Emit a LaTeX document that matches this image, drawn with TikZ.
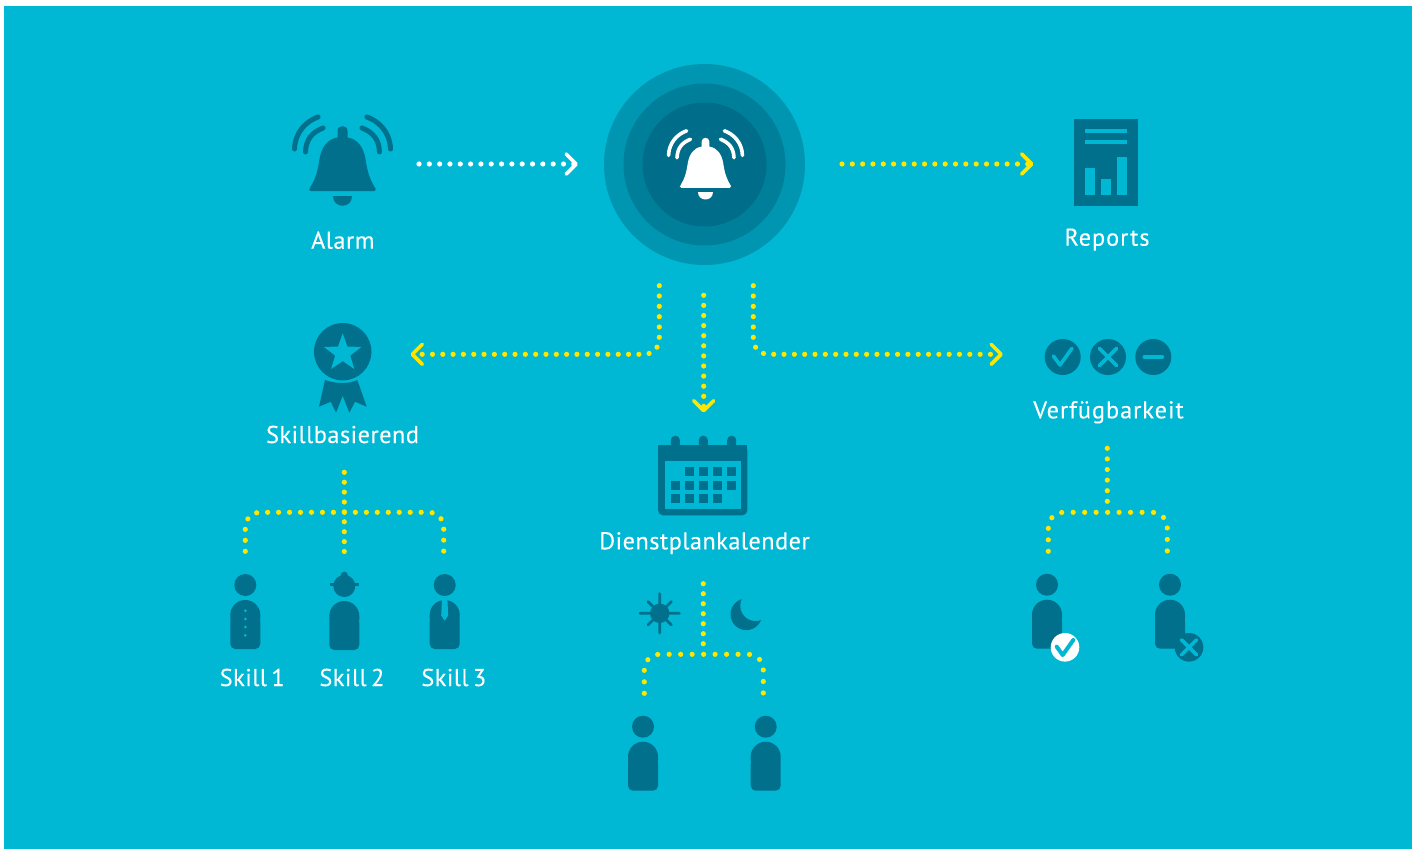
\documentclass[tikz,border=0pt]{standalone}
\usepackage{fontspec}
\setmainfont[LetterSpace=2,FakeBold=0.12]{PT Sans}
\newfontfamily\widelabel[LetterSpace=4,FakeBold=0.12]{PT Sans}
\usetikzlibrary{arrows.meta}
\definecolor{pagebg}{RGB}{0,183,212}
\definecolor{darkicon}{RGB}{0,112,140}
\definecolor{ringa}{RGB}{0,149,177}
\definecolor{ringb}{RGB}{0,127,155}
\definecolor{ringc}{RGB}{0,110,138}
\definecolor{dotyellow}{RGB}{255,230,0}
\tikzset{
  x=1pt,y=-1pt,
  label text/.style={text=white,anchor=base,inner sep=0pt,font=\fontsize{24.3}{26}\selectfont},
  dotline/.style={line width=5.2pt,line cap=round,dash pattern=on 0pt off #1pt},
  dotline/.default=10.32,
  flow/.style={dotline=#1,dotyellow,rounded corners=15pt},
  flow/.default=10.32,
  tree/.style={dotline=#1,dotyellow,rounded corners=15pt},
  barb/.style={-{Straight Barb[length=10pt,width=20pt,line width=3.6pt,round]}},
  iconline/.style={line width=3.6pt,line cap=round,line join=round},
  pics/person/.style={code={
    \fill[darkicon] (0,0) circle[radius=11pt];
    \fill[darkicon,rounded corners=15pt] (-15,15) rectangle (15,48);
    \fill[darkicon,rounded corners=5pt] (-15,32) rectangle (15,64);
  }},
  pics/bell/.style n args={2}{code={
    \fill[#1] (-29,27) [rounded corners=1.5pt] -- (-33.5,27) -- (-33,24.5) [sharp corners]
      .. controls (-27,15) and (-25,8) .. (-23,-5)
      .. controls (-21,-17) and (-15,-25) .. (-5,-26.5) -- (-5,-33)
      .. controls (-5,-39.5) and (5,-39.5) .. (5,-33) -- (5,-26.5)
      .. controls (15,-25) and (21,-17) .. (23,-5)
      .. controls (25,8) and (27,15) .. (33,24.5) [rounded corners=1.5pt] -- (33.5,27) -- cycle;
    \fill[#1] (-9.5,32) -- (9.5,32) .. controls (9.5,45) and (-9.5,45) .. (-9.5,32) -- cycle;
    \draw[#1,line width=#2,line cap=round]
      (-48,-15) .. controls (-47.5,-32) and (-36,-43) .. (-24.5,-47);
    \draw[#1,line width=#2,line cap=round]
      (-37,-12) .. controls (-36.5,-25) and (-30,-32) .. (-19.5,-36);
    \draw[#1,line width=#2,line cap=round]
      (48,-15) .. controls (47.5,-32) and (36,-43) .. (24.5,-47);
    \draw[#1,line width=#2,line cap=round]
      (37,-12) .. controls (36.5,-25) and (30,-32) .. (19.5,-36);
  }}
}
\begin{document}
\begin{tikzpicture}
\useasboundingbox (0,0) rectangle (1416,849);
\fill[white] (0,0) rectangle (1416,849);
\fill[pagebg] (4,6) rectangle (1412,849);

% hub
\node[circle,fill=ringa,minimum size=201pt,inner sep=0pt] (hub) at (704.5,164.5) {};
\node[circle,fill=ringb,minimum size=162pt,inner sep=0pt] (hubmid) at (704.5,164.5) {};
\node[circle,fill=ringc,minimum size=124pt,inner sep=0pt] (hubcore) at (704.5,164.5) {};
\pic[scale=.77] at (705.5,167) {bell={white}{3.6pt}};

% alarm
\pic at (342.5,164) {bell={darkicon}{5pt}};
\node[label text] (alarm) at (342.8,248.7) {Alarm};

% reports
\fill[darkicon] (1074,119) rectangle (1138,206);
\fill[pagebg] (1085,129) rectangle (1127,133.3);
\fill[pagebg] (1085,140) rectangle (1127,144.3);
\fill[pagebg] (1085,167.7) rectangle (1095,195);
\fill[pagebg] (1101,179) rectangle (1111,195);
\fill[pagebg] (1117.3,156.7) rectangle (1127,195);
\node[label text] (reports) at (1107,245.7) {\widelabel Reports};

% status circles
\fill[darkicon] (1062.7,357) circle[radius=18pt];
\draw[pagebg,iconline] (1053.4,356) -- (1060,365) -- (1072,348.3);
\fill[darkicon] (1108,357) circle[radius=18pt];
\draw[pagebg,iconline] (1099.3,348.3) -- (1116.7,365.7) (1116.7,348.3) -- (1099.3,365.7);
\fill[darkicon] (1153.3,357) circle[radius=18pt];
\draw[pagebg,iconline] (1144.3,357) -- (1162.3,357);
\node[label text] (verf) at (1108.5,418.3) {\widelabel Verfügbarkeit};

% award
\fill[darkicon] (342.7,351.7) circle[radius=28.7pt];
\fill[pagebg] (342.7,333.3)
  -- (347.4,346.6) -- (361.5,346.9) -- (350.3,355.6) -- (354.3,369) -- (342.7,361.1)
  -- (331.1,369) -- (335.1,355.6) -- (323.9,346.9) -- (338,346.6) -- cycle;
\fill[darkicon] (325,380) .. controls (336,384) and (349.5,384) .. (357.3,380)
  -- (366.7,406.7) -- (355,401.7) -- (349.3,412.7) -- (342.7,395.7)
  -- (336,412.7) -- (330.7,401.7) -- (319,406.7) -- cycle;
\node[label text] (skillb) at (342.5,443) {Skillbasierend};

% calendar
\foreach \xx in {675.3,703.3,731.7}{
  \fill[darkicon,rounded corners=4.4pt] (\xx-4.5,435.7) rectangle (\xx+4.5,455);
}
\fill[darkicon,rounded corners=5pt] (658,445.3) -- (658,515.3) -- (747.3,515.3) -- (747.3,445.3) [sharp corners] -- cycle;
\fill[darkicon] (658,445.3) rectangle (747.3,470);
\fill[pagebg] (665,461) rectangle (741.3,509);
\foreach \xx/\yy in {685/467,699/467,713/467,727/467,
                     671/481,685/481,699/481,713/481,727/481,
                     671/494,685/494,699/494,713/494}{
  \fill[darkicon] (\xx,\yy) rectangle (\xx+9,\yy+9);
}
\node[label text] (dienst) at (704.5,549.3) {Dienstplankalender};

% sun and moon
\fill[darkicon] (659.7,613.3) circle[radius=9.7pt];
\draw[darkicon,line width=2.8pt,line cap=round]
  (640,613.3) -- (679.4,613.3) (659.7,593.6) -- (659.7,633)
  (648,601.6) -- (671.4,625) (671.4,601.6) -- (648,625);
\fill[darkicon] (746.3,614.3) circle[radius=15.8pt];
\fill[pagebg] (755.6,605.7) circle[radius=15.3pt];

% people
\pic at (245.3,585) {person};
\fill[pagebg] (245.3,610.7) circle[radius=1.5pt] (245.3,619) circle[radius=1.5pt]
  (245.3,627) circle[radius=1.5pt] (245.3,635.3) circle[radius=1.5pt];
\pic at (344.3,586) {person};
\fill[darkicon] (344.3,575.3) circle[radius=3.6pt];
\draw[darkicon,line width=3pt] (330,584.3) -- (358.6,584.3);
\pic at (444.7,585) {person};
\fill[pagebg] (442,600) -- (447.4,600) -- (448.2,615.5) -- (444.7,620.7) -- (441.2,615.5) -- cycle;
\node[label text] (s1) at (252.2,686) {Skill\kern-2.5pt{} 1};
\node[label text] (s2) at (351.9,686) {Skill\kern-2.5pt{} 2};
\node[label text] (s3) at (453.8,686) {Skill\kern-2.5pt{} 3};
\pic at (643,726.7) {person};
\pic at (765.7,726.7) {person};
\pic at (1047,584.7) {person};
\pic at (1170,584.7) {person};
\fill[white] (1065,647.3) circle[radius=14.3pt];
\draw[pagebg,line width=4pt,line cap=round,line join=round] (1056.7,646.7) -- (1062.7,655) -- (1073.3,640);
\fill[darkicon] (1189,647.3) circle[radius=14.3pt];
\draw[pagebg,line width=3.6pt,line cap=round] (1181.5,639.8) -- (1196.5,654.8) (1196.5,639.8) -- (1181.5,654.8);

% connector end points
\coordinate (alarmout) at (419,164);
\coordinate (hubin) at (578,164);
\coordinate (hubout) at (842,164);
\coordinate (reportsin) at (1033.5,164);
\coordinate (hubl) at (659.3,285.7);
\coordinate (hubm) at (703.7,295.3);
\coordinate (hubr) at (753.3,285.7);
\coordinate (skillin) at (410.5,354.3);
\coordinate (calin) at (703.7,412.5);
\coordinate (statin) at (1003,354.3);
\coordinate (skillstem) at (344.3,472.3);
\coordinate (skillstemend) at (344.3,551.5);
\coordinate (s1top) at (245.3,551.3);
\coordinate (s3top) at (443.7,551.3);
\coordinate (dstem) at (703.3,583.7);
\coordinate (dstemend) at (703.3,644);
\coordinate (dltop) at (644.3,693.3);
\coordinate (drtop) at (763.3,693.3);
\coordinate (vstem) at (1107.3,448.3);
\coordinate (vstemend) at (1107.3,501.5);
\coordinate (vltop) at (1048.3,551.3);
\coordinate (vrtop) at (1167.3,551.3);

% connectors
\draw[dotline,white,barb] (alarmout) -- (hubin);
\draw[flow,barb] (hubout) -- (reportsin);
\draw[flow,barb] (hubl) -- (hubl |- skillin) -- (skillin);
\draw[flow=10.1,barb] (hubm) -- (calin);
\draw[flow,barb] (hubr) -- (hubr |- statin) -- (statin);

\draw[tree=9.9] (skillstem) -- (skillstemend);
\draw[tree=10.97] (s1top) -- (245.3,512.3) -- (443.7,512.3) -- (s3top);
\draw[tree=10] (dstem) -- (dstemend);
\draw[tree=11.48] (dltop) -- (644.3,654.3) -- (763.3,654.3) -- (drtop);
\draw[tree=10.6] (vstem) -- (vstemend);
\draw[tree=11.48] (vltop) -- (1048.3,512.3) -- (1167.3,512.3) -- (vrtop);
\end{tikzpicture}
\end{document}
